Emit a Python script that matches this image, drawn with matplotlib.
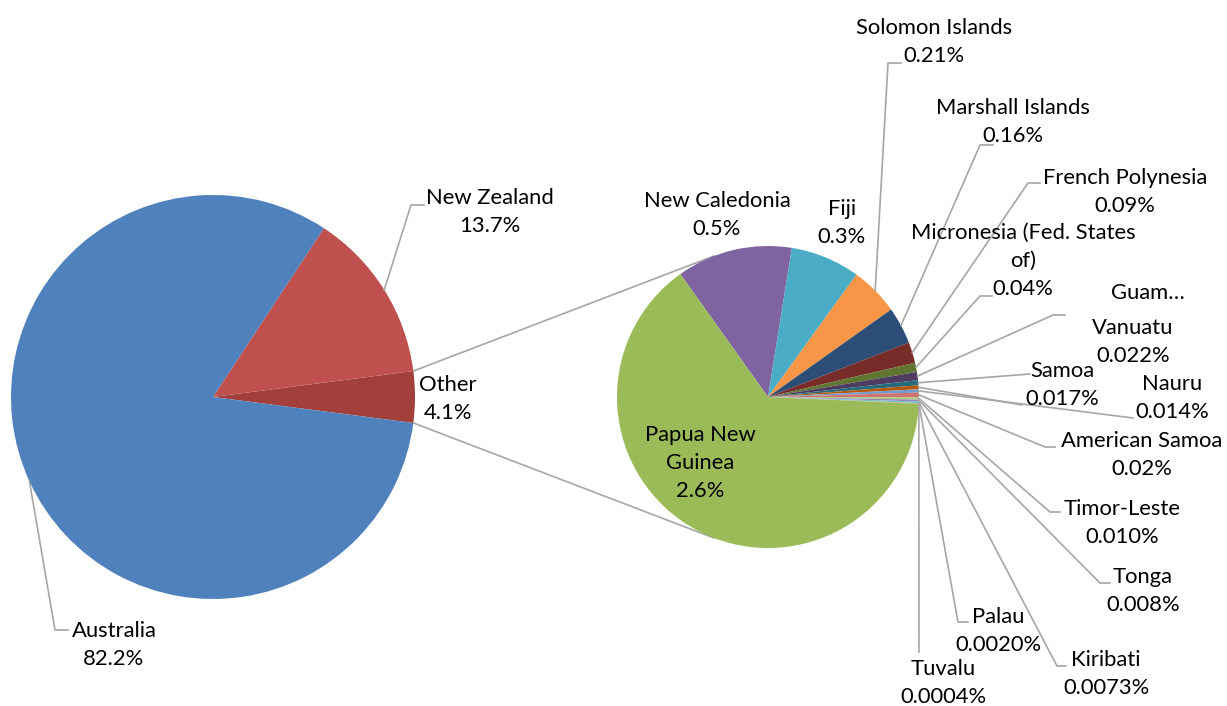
import numpy as np
import matplotlib.pyplot as plt

plt.rcParams['font.family'] = ['Lato', 'DejaVu Sans']

W, H = 1227, 706

# main pie (clockwise from "Other")
main_names = ['Other', 'New Zealand', 'Australia']
main_values = [4.1, 13.7, 82.2]
main_pct = ['4.1%', '13.7%', '82.2%']
main_colors = ['#A33F3B', '#C0504D', '#4F81BD']

# breakdown of "Other"
sub_names = ['New Caledonia', 'Fiji', 'Solomon Islands', 'Marshall Islands', 'French Polynesia',
             'Micronesia (Fed. States\nof)', 'Guam', 'Vanuatu', 'Samoa', 'Nauru', 'American Samoa',
             'Timor-Leste', 'Tonga', 'Kiribati', 'Palau', 'Tuvalu', 'Papua New\nGuinea']
sub_values = [0.5, 0.3, 0.21, 0.16, 0.09, 0.04, 0.035, 0.022, 0.017, 0.014, 0.02,
              0.010, 0.008, 0.0073, 0.0020, 0.0004, 2.6]
sub_pct = ['0.5%', '0.3%', '0.21%', '0.16%', '0.09%', '0.04%', '', '0.022%', '0.017%', '0.014%',
           '0.02%', '0.010%', '0.008%', '0.0073%', '0.0020%', '0.0004%', '2.6%']
sub_colors = ['#8064A2', '#4BACC6', '#F79646', '#2C4D75', '#772C2A', '#5F7530', '#4D3B62',
              '#276A7C', '#B65708', '#729ACA', '#CD7371', '#AFC97A', '#9983B5', '#6FBDD1',
              '#F9AB6B', '#3A5F8F', '#9BBB59']

fig = plt.figure(figsize=(W / 100, H / 100), dpi=100)
ax = fig.add_axes([0, 0, 1, 1])

def Y(y):
    return H - y

c1, r1 = (213, Y(397)), 202
c2, r2 = (768, Y(397)), 151

w1, _ = ax.pie(main_values, colors=main_colors, radius=r1, center=c1,
               startangle=-main_values[0] / sum(main_values) * 180, counterclock=True,
               wedgeprops=dict(linewidth=0))
w2, _ = ax.pie(sub_values, colors=sub_colors, radius=r2, center=c2,
               startangle=125.5, counterclock=False, wedgeprops=dict(linewidth=0))

line_col = '#A6A6A6'

def edge(w, c, r):
    a = np.radians((w.theta1 + w.theta2) / 2)
    return c[0] + r * np.cos(a), c[1] + r * np.sin(a)

# connector lines between the two pies (tangent to the second pie)
for th, sgn in [(w1[0].theta2, 1), (w1[0].theta1, -1)]:
    px = c1[0] + r1 * np.cos(np.radians(th))
    py = c1[1] + r1 * np.sin(np.radians(th))
    d = np.hypot(px - c2[0], py - c2[1])
    base = np.arctan2(py - c2[1], px - c2[0])
    a = base - sgn * np.arccos(r2 / d)
    ax.plot([px, c2[0] + r2 * np.cos(a)], [py, c2[1] + r2 * np.sin(a)],
            color=line_col, lw=1.2, zorder=0)

# label layout: text centre, then leader points (elbow / end)
main_pos = [(448, 399, None), (490, 212, [(411, 205), (424, 205)]),
            (114, 645, [(55, 630), (68, 630)])]
sub_pos = [(717, 215, None), (842, 223, None),
           (934, 42, [(888, 63), (901, 63)]),
           (1013, 122, [(980, 145), (993, 145)]),
           (1125, 192, [(1028, 183), (1040, 183)]),
           (1023, 261, [(980, 296), (992, 296)]),
           (1148, 293, [(1053, 315), (1065, 315)]),
           (1133, 342, [(1030, 374)]),
           (1062, 385, [(1022, 405)]),
           (1172, 398, [(1133, 418)]),
           (1142, 455, [(1045, 447), (1055, 447)]),
           (1122, 523, [(1050, 512), (1060, 512)]),
           (1143, 591, [(1100, 583), (1110, 583)]),
           (1106, 674, [(1057, 666), (1066, 666)]),
           (998, 631, [(958, 622), (968, 622)]),
           (943, 683, [(919, 652)]),
           (700, 463, None)]

def label(w, c, r, name, pct, pos):
    tx, ty, pts = pos
    if pts:
        x0, y0 = edge(w, c, r)
        xs = [x0] + [p[0] for p in pts]
        ys = [y0] + [Y(p[1]) for p in pts]
        ax.plot(xs, ys, color=line_col, lw=1.2, zorder=1)
    txt = f'{name}\n{pct}' if pct else name + '…'
    ax.text(tx, Y(ty), txt, ha='center', va='center', fontsize=15.8,
            linespacing=1.52, color='black', zorder=3)

for w, n, p, pos in zip(w1, main_names, main_pct, main_pos):
    label(w, c1, r1, n, p, pos)
for w, n, p, pos in zip(w2, sub_names, sub_pct, sub_pos):
    label(w, c2, r2, n, p, pos)

ax.set_xlim(0, W)
ax.set_ylim(0, H)
ax.set_aspect('auto')
ax.axis('off')

fig.savefig('out.png', dpi=100, facecolor='white')
